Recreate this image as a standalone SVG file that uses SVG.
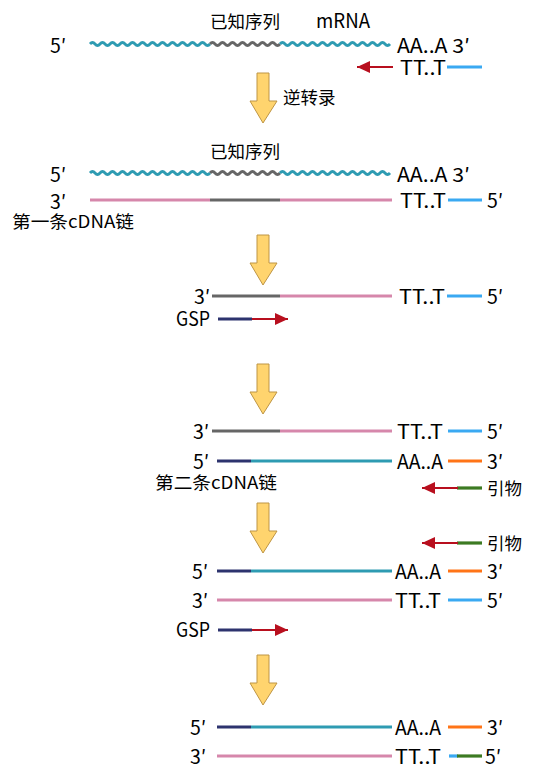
<svg xmlns="http://www.w3.org/2000/svg" width="535" height="770" viewBox="0 0 535 770">
<style>
.t{font-family:"Noto Sans CJK SC","Noto Sans",sans-serif;font-size:19.5px;fill:#000}
.c{font-family:"Noto Sans CJK SC","Noto Sans",sans-serif;font-size:17.5px;fill:#000}
.s{fill:none;stroke-width:3.2}
.teal{stroke:#2E9BB2}
.gray{stroke:#666666}
.pink{stroke:#D687AB}
.navy{stroke:#2D336E}
.blue{stroke:#3AA9F2}
.orange{stroke:#FF7417}
.green{stroke:#3C7A22}
.red{stroke:#B80F1E;stroke-width:2;fill:none}
.wave{fill:none;stroke-width:2.8}
.big{fill:#FFD46E;stroke:#BE9544;stroke-width:1}
</style>
<defs>
<marker id="rh" markerUnits="userSpaceOnUse" markerWidth="13" markerHeight="12" refX="13" refY="6" orient="auto">
<path d="M0,0 L13,6 L0,12 z" fill="#B80F1E"/>
</marker>
</defs>

<g id="flow-arrows">
<polygon class="big" points="257,73 269,73 269,101 277,101 263,123 250,101 257,101"/>
<polygon class="big" points="257,235 269,235 269,263 277,263 263,285 250,263 257,263"/>
<polygon class="big" points="257,364 269,364 269,392 277,392 263,414 250,392 257,392"/>
<polygon class="big" points="257,503 269,503 269,531 277,531 263,553 250,531 257,531"/>
<polygon class="big" points="257,655 269,655 269,683 277,683 263,705 250,683 257,683"/>
<text class="c" x="283" y="104" font-size="18">逆转录</text>
</g>

<g id="step1-mrna">
<text class="c" x="210" y="28">已知序列</text>
<text class="t" x="316" y="28" font-size="18" textLength="54" lengthAdjust="spacingAndGlyphs">mRNA</text>
<text class="t" x="50" y="53">5′</text>
<path class="wave teal" d="M90,44 q2.5,-3 5,0 t5,0 t5,0 t5,0 t5,0 t5,0 t5,0 t5,0 t5,0 t5,0 t5,0 t5,0 t5,0 t5,0 t5,0 t5,0 t5,0 t5,0 t5,0 t5,0 t5,0 t5,0 t5,0 t5,0"/>
<path class="wave gray" d="M210,44 q2.5,-3 5,0 t5,0 t5,0 t5,0 t5,0 t5,0 t5,0 t5,0 t5,0 t5,0 t5,0 t5,0 t5,0 t5,0"/>
<path class="wave teal" d="M280,44 q2.5,-3 5,0 t5,0 t5,0 t5,0 t5,0 t5,0 t5,0 t5,0 t5,0 t5,0 t5,0 t5,0 t5,0 t5,0 t5,0 t5,0 t5,0 t5,0 t5,0 t5,0 t5,0 t5,0"/>
<text class="t" x="397" y="53" textLength="73" lengthAdjust="spacingAndGlyphs">AA..A 3′</text>
</g>
<g id="step1-oligodt">
<text class="t" x="400" y="75" textLength="46" lengthAdjust="spacingAndGlyphs">TT..T</text>
<line class="s blue" x1="447" y1="67" x2="482" y2="67"/>
</g>

<g id="step2-hybrid">
<text class="c" x="210" y="158">已知序列</text>
<text class="t" x="50" y="182">5′</text>
<path class="wave teal" d="M90,173 q2.5,-3 5,0 t5,0 t5,0 t5,0 t5,0 t5,0 t5,0 t5,0 t5,0 t5,0 t5,0 t5,0 t5,0 t5,0 t5,0 t5,0 t5,0 t5,0 t5,0 t5,0 t5,0 t5,0 t5,0 t5,0"/>
<path class="wave gray" d="M210,173 q2.5,-3 5,0 t5,0 t5,0 t5,0 t5,0 t5,0 t5,0 t5,0 t5,0 t5,0 t5,0 t5,0 t5,0 t5,0"/>
<path class="wave teal" d="M280,173 q2.5,-3 5,0 t5,0 t5,0 t5,0 t5,0 t5,0 t5,0 t5,0 t5,0 t5,0 t5,0 t5,0 t5,0 t5,0 t5,0 t5,0 t5,0 t5,0 t5,0 t5,0 t5,0 t5,0"/>
<text class="t" x="397" y="182" textLength="73" lengthAdjust="spacingAndGlyphs">AA..A 3′</text>
<text class="t" x="50" y="209">3′</text>
<line class="s pink" x1="90" y1="200" x2="210" y2="200"/>
<line class="s gray" x1="210" y1="200" x2="280" y2="200"/>
<line class="s pink" x1="280" y1="200" x2="392" y2="200"/>
<text class="t" x="400" y="208" textLength="46" lengthAdjust="spacingAndGlyphs">TT..T</text>
<line class="s blue" x1="448" y1="200" x2="482" y2="200"/>
<text class="t" x="487" y="208">5′</text>
<text class="c" x="12" y="228" textLength="122" lengthAdjust="spacingAndGlyphs">第一条cDNA链</text>
</g>

<g id="step3-first-strand">
<text class="t" x="194" y="304">3′</text>
<line class="s gray" x1="212" y1="296" x2="280" y2="296"/>
<line class="s pink" x1="280" y1="296" x2="392" y2="296"/>
<text class="t" x="399" y="304" textLength="46" lengthAdjust="spacingAndGlyphs">TT..T</text>
<line class="s blue" x1="447" y1="296" x2="482" y2="296"/>
<text class="t" x="487" y="304">5′</text>
</g>
<g id="step3-gsp">
<text class="t" x="176" y="326" font-size="18" textLength="34" lengthAdjust="spacingAndGlyphs">GSP</text>
<line class="s navy" x1="218" y1="319" x2="252" y2="319"/>
</g>

<g id="step4-first-strand">
<text class="t" x="193" y="439">3′</text>
<line class="s gray" x1="212" y1="431" x2="280" y2="431"/>
<line class="s pink" x1="280" y1="431" x2="392" y2="431"/>
<text class="t" x="397" y="439" textLength="46" lengthAdjust="spacingAndGlyphs">TT..T</text>
<line class="s blue" x1="448" y1="431" x2="482" y2="431"/>
<text class="t" x="487" y="439">5′</text>
</g>
<g id="step4-second-strand">
<text class="t" x="193" y="469">5′</text>
<line class="s navy" x1="217" y1="461" x2="251" y2="461"/>
<line class="s teal" x1="251" y1="461" x2="392" y2="461"/>
<text class="t" x="397" y="469" textLength="46" lengthAdjust="spacingAndGlyphs">AA..A</text>
<line class="s orange" x1="448" y1="461" x2="482" y2="461"/>
<text class="t" x="487" y="469">3′</text>
<text class="c" x="155" y="489" textLength="122" lengthAdjust="spacingAndGlyphs">第二条cDNA链</text>
</g>
<g id="step4-primer">
<line class="s green" x1="457" y1="488" x2="482" y2="488"/>
<text class="c" x="487" y="495">引物</text>
</g>

<g id="step5-primer">
<line class="s green" x1="457" y1="543" x2="482" y2="543"/>
<text class="c" x="487" y="550">引物</text>
</g>
<g id="step5-second-strand">
<text class="t" x="192" y="579">5′</text>
<line class="s navy" x1="217" y1="571" x2="251" y2="571"/>
<line class="s teal" x1="251" y1="571" x2="392" y2="571"/>
<text class="t" x="395" y="579" textLength="46" lengthAdjust="spacingAndGlyphs">AA..A</text>
<line class="s orange" x1="448" y1="571" x2="482" y2="571"/>
<text class="t" x="487" y="579">3′</text>
</g>
<g id="step5-first-strand">
<text class="t" x="192" y="608">3′</text>
<line class="s pink" x1="217" y1="600" x2="392" y2="600"/>
<text class="t" x="395" y="608" textLength="46" lengthAdjust="spacingAndGlyphs">TT..T</text>
<line class="s blue" x1="448" y1="600" x2="482" y2="600"/>
<text class="t" x="487" y="608">5′</text>
</g>
<g id="step5-gsp">
<text class="t" x="176" y="637" font-size="18" textLength="34" lengthAdjust="spacingAndGlyphs">GSP</text>
<line class="s navy" x1="218" y1="630" x2="252" y2="630"/>
</g>

<g id="step6-upper">
<text class="t" x="190" y="735">5′</text>
<line class="s navy" x1="217" y1="727" x2="251" y2="727"/>
<line class="s teal" x1="251" y1="727" x2="392" y2="727"/>
<text class="t" x="395" y="735" textLength="46" lengthAdjust="spacingAndGlyphs">AA..A</text>
<line class="s orange" x1="448" y1="727" x2="482" y2="727"/>
<text class="t" x="487" y="735">3′</text>
</g>
<g id="step6-lower">
<text class="t" x="190" y="764">3′</text>
<line class="s pink" x1="217" y1="756" x2="392" y2="756"/>
<text class="t" x="395" y="764" textLength="46" lengthAdjust="spacingAndGlyphs">TT..T</text>
<line class="s blue" x1="449" y1="756" x2="458" y2="756"/>
<line class="s green" x1="457" y1="756" x2="482" y2="756"/>
<text class="t" x="485" y="764">5′</text>
</g>

<g id="connectors">
<line class="red" x1="393" y1="67" x2="357" y2="67" marker-end="url(#rh)"/>
<line class="red" x1="252" y1="319" x2="288" y2="319" marker-end="url(#rh)"/>
<line class="red" x1="458" y1="488" x2="422" y2="488" marker-end="url(#rh)"/>
<line class="red" x1="458" y1="543" x2="422" y2="543" marker-end="url(#rh)"/>
<line class="red" x1="252" y1="630" x2="288" y2="630" marker-end="url(#rh)"/>
</g>
</svg>
